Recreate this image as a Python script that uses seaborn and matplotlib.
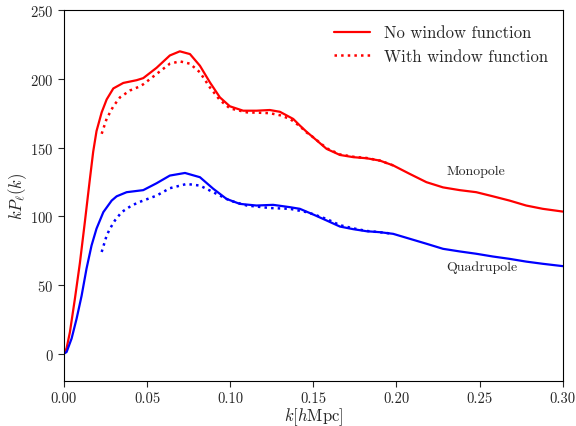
import matplotlib
matplotlib.use("Agg")
import matplotlib.pyplot as plt
import seaborn as sns

# monopole, no window function
k_mono = [0.0, 0.0016, 0.0036, 0.0066, 0.0096, 0.0126, 0.0156, 0.0176, 0.0196, 0.0227,
          0.0257, 0.0297, 0.0357, 0.0437, 0.0477, 0.0557, 0.0637, 0.0697, 0.0758, 0.0818,
          0.0878, 0.0938, 0.0998, 0.1078, 0.1158, 0.1238, 0.1299, 0.1379, 0.1419, 0.1459,
          0.1499, 0.158, 0.166, 0.174, 0.182, 0.190, 0.198, 0.208, 0.218, 0.228,
          0.238, 0.248, 0.258, 0.268, 0.278, 0.288, 0.30]
p_mono = [0.0, 4.0, 15.7, 40.0, 66.0, 96.0, 127.0, 147.0, 162.0, 175.6,
          185.0, 193.0, 197.0, 199.0, 200.5, 208.0, 217.0, 220.0, 218.0, 209.5,
          197.4, 186.5, 180.0, 176.8, 176.8, 177.3, 176.0, 170.8, 166.0, 161.5,
          157.4, 149.0, 144.6, 143.0, 142.2, 140.5, 137.0, 130.8, 124.8, 121.0,
          119.0, 117.5, 114.5, 111.4, 107.8, 105.4, 103.4]

# monopole, with window function
k_mono_w = [0.0227, 0.0257, 0.0297, 0.0337, 0.0397, 0.0447, 0.0477, 0.0557, 0.0637, 0.0697,
            0.0758, 0.0818, 0.0878, 0.0938, 0.0998, 0.110, 0.1178, 0.1238, 0.1299, 0.136,
            0.1419, 0.1459, 0.1499, 0.158, 0.166, 0.174, 0.182, 0.190, 0.198]
p_mono_w = [160.0, 171.0, 180.0, 186.5, 191.5, 194.0, 196.0, 203.5, 211.0, 212.7,
            211.0, 204.7, 193.7, 184.5, 178.5, 175.6, 175.3, 175.0, 173.5, 170.8,
            165.5, 161.0, 157.5, 149.5, 145.0, 143.3, 142.4, 140.5, 137.0]

# quadrupole, no window function
k_quad = [0.0, 0.0016, 0.0046, 0.0076, 0.0106, 0.0136, 0.0166, 0.0196, 0.0237, 0.0287,
          0.0317, 0.0377, 0.0477, 0.0557, 0.0637, 0.0728, 0.0818, 0.0898, 0.0978, 0.1058,
          0.1158, 0.1258, 0.1359, 0.1419, 0.1499, 0.158, 0.166, 0.174, 0.182, 0.190,
          0.198, 0.208, 0.218, 0.228, 0.238, 0.248, 0.258, 0.268, 0.278, 0.288, 0.30]
p_quad = [0.0, 1.2, 11.0, 25.4, 42.0, 62.0, 78.7, 91.0, 103.0, 111.4,
          114.5, 117.5, 119.0, 124.0, 129.6, 131.5, 128.4, 120.0, 112.6, 109.0,
          107.8, 108.3, 106.6, 105.4, 101.3, 96.9, 92.5, 90.6, 89.1, 88.4,
          87.2, 83.6, 80.0, 76.3, 74.4, 72.7, 70.7, 69.0, 67.0, 65.4, 63.7]

# quadrupole, with window function
k_quad_w = [0.0227, 0.0257, 0.0277, 0.0307, 0.0347, 0.0407, 0.0457, 0.0557, 0.0637, 0.0738,
            0.0818, 0.0898, 0.0998, 0.110, 0.1238, 0.136, 0.1459, 0.1499, 0.158, 0.166,
            0.174, 0.182, 0.190, 0.198]
p_quad_w = [74.0, 86.0, 91.0, 97.0, 103.0, 107.8, 110.5, 115.0, 120.4, 123.5,
            122.3, 117.5, 111.4, 107.8, 106.0, 105.4, 103.0, 101.5, 98.0, 93.5,
            91.2, 89.3, 88.4, 87.2]

sns.set_theme(style="ticks")
plt.rcParams["font.family"] = ["cmr10", "DejaVu Serif"]
plt.rcParams["mathtext.fontset"] = "cm"
plt.rcParams["axes.formatter.use_mathtext"] = True
plt.rcParams["axes.unicode_minus"] = False

fig = plt.figure(figsize=(5.76, 4.27), dpi=100)
ax = fig.add_axes([0.111, 0.105, 0.866, 0.869])

sns.lineplot(x=k_mono, y=p_mono, ax=ax, color="red", lw=1.6, label="No window function",
             estimator=None, sort=False)
sns.lineplot(x=k_mono_w, y=p_mono_w, ax=ax, color="red", lw=1.8, linestyle=":",
             label="With window function", estimator=None, sort=False)
sns.lineplot(x=k_quad, y=p_quad, ax=ax, color="blue", lw=1.6, estimator=None, sort=False)
sns.lineplot(x=k_quad_w, y=p_quad_w, ax=ax, color="blue", lw=1.8, linestyle=":",
             estimator=None, sort=False)

ax.text(0.23, 133, "Monopole", fontsize=10, va="center", ha="left")
ax.text(0.23, 63, "Quadrupole", fontsize=10, va="center", ha="left")

ax.set_xlim(0, 0.3)
ax.set_ylim(-20, 250)
ax.set_xticks([0.0, 0.05, 0.10, 0.15, 0.20, 0.25, 0.30])
ax.set_xticklabels(["0.00", "0.05", "0.10", "0.15", "0.20", "0.25", "0.30"])
ax.set_yticks([0, 50, 100, 150, 200, 250])
ax.tick_params(labelsize=10.5, length=4, width=0.8, direction="out")
for s in ax.spines.values():
    s.set_linewidth(0.8)
    s.set_color("black")

ax.set_xlabel(r"$k[h\mathrm{Mpc}]$", fontsize=12, labelpad=0)
ax.set_ylabel(r"$kP_\ell(k)$", fontsize=12, labelpad=1)
ax.legend(loc="upper right", frameon=False, fontsize=12, handlelength=2.2)

fig.savefig("out.png", dpi=100)
